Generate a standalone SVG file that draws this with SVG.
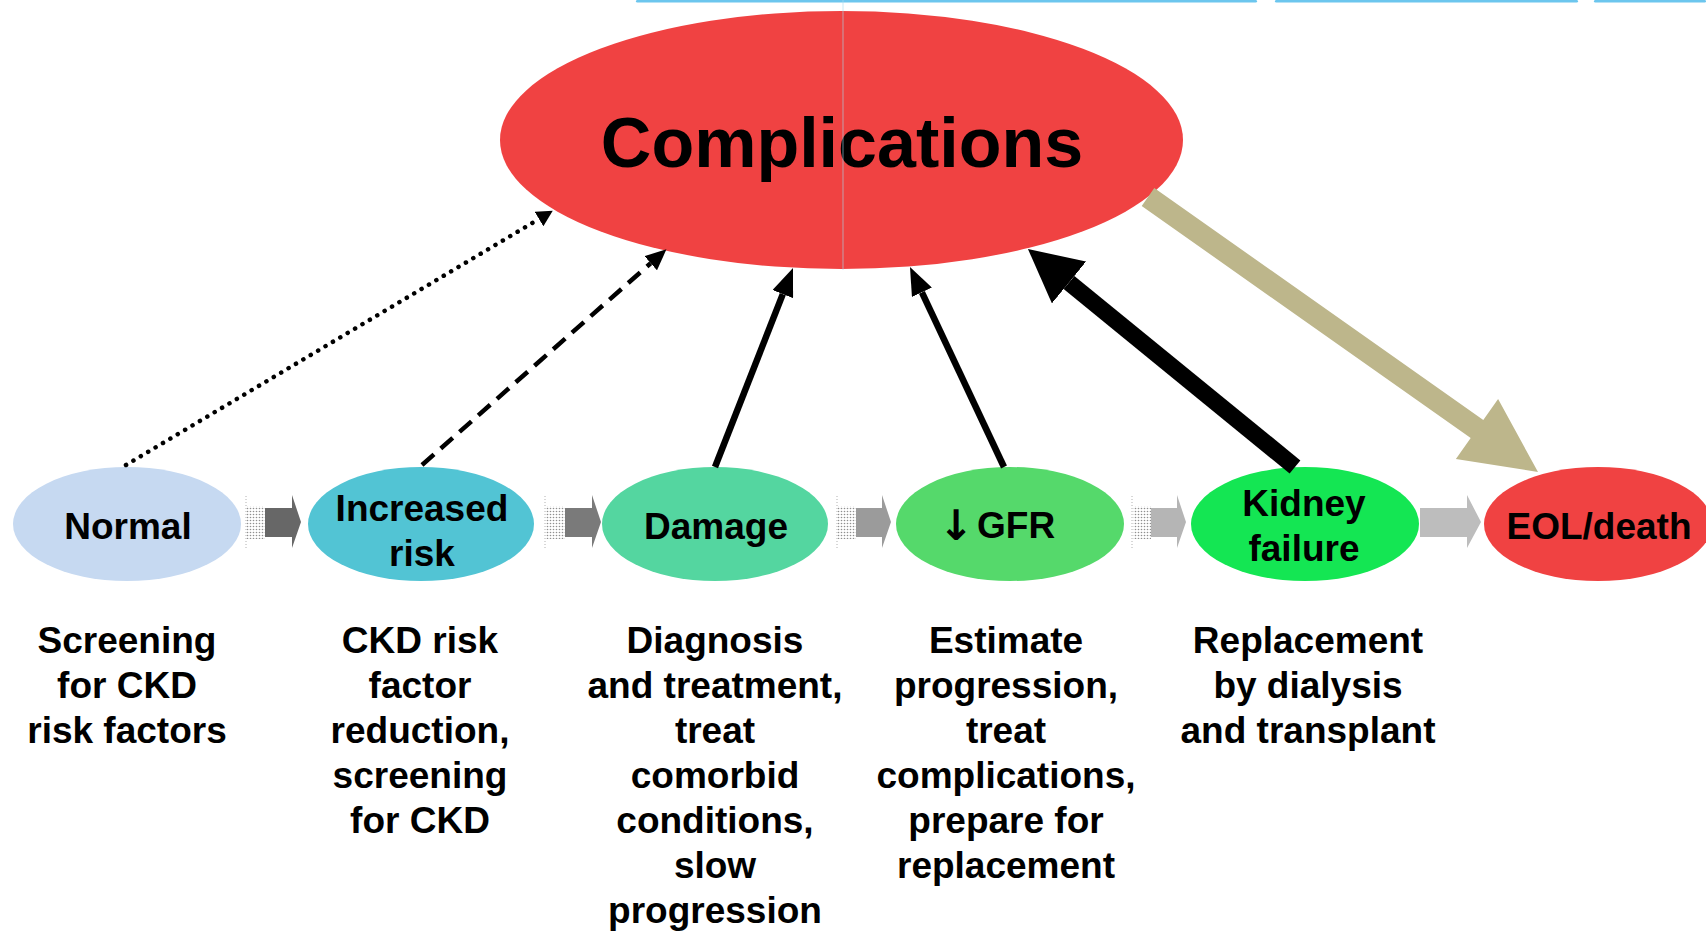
<svg xmlns="http://www.w3.org/2000/svg" width="1706" height="933" viewBox="0 0 1706 933">
<defs>
<style>
.t{font-family:"Liberation Sans",Arial,Helvetica,sans-serif;font-weight:bold;fill:#000}
.lbl{font-size:37px;text-anchor:middle}
.desc{font-size:37px;text-anchor:middle}
.ln{fill:none;stroke:#000;stroke-linecap:butt}
.dot{fill:none;stroke:#000;stroke-linecap:round;stroke-width:4.5px;stroke-dasharray:0.1 8.5}
.hatch{fill:url(#dots)}
.edge{stroke:#b0b0b0;stroke-width:1;stroke-dasharray:1 2}
</style>
<pattern id="dots" width="3" height="3" patternUnits="userSpaceOnUse"><circle cx="1.5" cy="1.5" r="0.8" fill="#8f8f8f"/></pattern>
<marker id="hS" markerUnits="userSpaceOnUse" viewBox="0 0 28 22" refX="0" refY="11" markerWidth="28" markerHeight="22" orient="auto"><path d="M0,0 L28,11 L0,22 z" fill="#000"/></marker>
<marker id="hDot" markerUnits="userSpaceOnUse" viewBox="0 0 16 17" refX="0" refY="8.5" markerWidth="16" markerHeight="17" orient="auto"><path d="M0,0 L16,8.5 L0,17 z" fill="#000"/></marker>
<marker id="hDash" markerUnits="userSpaceOnUse" viewBox="0 0 21 19" refX="0" refY="9.5" markerWidth="21" markerHeight="19" orient="auto"><path d="M0,0 L21,9.5 L0,19 z" fill="#000"/></marker>
<marker id="hBig" markerUnits="userSpaceOnUse" viewBox="0 0 53 54" refX="0" refY="27" markerWidth="53" markerHeight="54" orient="auto"><path d="M0,0 L53,27 L0,54 z" fill="#000"/></marker>
</defs>
<rect width="1706" height="933" fill="#fff"/>
<g id="top-bars" fill="#6cc6ee">
<rect x="636" y="0" width="621" height="2.5" rx="1.2"/>
<rect x="1275" y="0" width="303" height="2.5" rx="1.2"/>
<rect x="1594" y="0" width="112" height="2.5" rx="1.2"/>
</g>
<g id="complications">
<ellipse cx="841.5" cy="140" rx="341.5" ry="129" fill="#f04242"/>
<text class="t" x="842" y="167" font-size="70" text-anchor="middle">Complications</text>
</g>
<line x1="843" y1="0" x2="843" y2="270" stroke="#a6dcf2" stroke-width="1" opacity="0.6"/>
<g id="node-normal">
<ellipse cx="127" cy="524" rx="114" ry="57" fill="#c6d9f1"/>
<text class="t lbl" x="128" y="539">Normal</text>
</g>
<g id="node-increased-risk">
<ellipse cx="421" cy="524" rx="113" ry="57" fill="#52c4d4"/>
<text class="t lbl" x="422" y="521">Increased</text>
<text class="t lbl" x="422" y="566">risk</text>
</g>
<g id="node-damage">
<ellipse cx="715" cy="524" rx="113" ry="57" fill="#54d6a0"/>
<text class="t lbl" x="716" y="539">Damage</text>
</g>
<g id="node-gfr">
<ellipse cx="1010" cy="524" rx="114" ry="57" fill="#55d96b"/>
<text x="956" y="540" font-family="'DejaVu Sans',sans-serif" font-weight="bold" font-size="42" text-anchor="middle" fill="#000">↓</text>
<text class="t" font-size="37" x="977" y="538">GFR</text>
</g>
<g id="node-kidney-failure">
<ellipse cx="1305" cy="524" rx="114" ry="57" fill="#14e653"/>
<text class="t lbl" x="1304" y="516">Kidney</text>
<text class="t lbl" x="1304" y="561">failure</text>
</g>
<g id="node-eol">
<ellipse cx="1598" cy="524" rx="114" ry="57" fill="#f04242"/>
<text class="t lbl" x="1599" y="539">EOL/death</text>
</g>
<g id="connectors">
<g id="flow-arrows">
<rect class="hatch" x="247" y="506" width="18" height="33"/>
<line class="edge" x1="246" y1="496" x2="246" y2="548"/>
<path d="M265,508 H292 V495 L301,522 L292,548 V537 H265 z" fill="#676767"/>
<rect class="hatch" x="546" y="506" width="19" height="33"/>
<line class="edge" x1="545" y1="496" x2="545" y2="548"/>
<path d="M565,508 H592 V495 L601,522 L592,548 V537 H565 z" fill="#7a7a7a"/>
<rect class="hatch" x="838" y="506" width="18" height="33"/>
<line class="edge" x1="837" y1="496" x2="837" y2="548"/>
<path d="M856,508 H882 V495 L891,522 L882,548 V537 H856 z" fill="#9b9b9b"/>
<rect class="hatch" x="1133" y="506" width="18" height="33"/>
<line class="edge" x1="1132" y1="496" x2="1132" y2="548"/>
<path d="M1151,508 H1177 V495 L1186,522 L1177,548 V537 H1151 z" fill="#b5b5b5"/>
<path d="M1420,508 H1467 V495 L1481,522 L1467,548 V537 H1420 z" fill="#bdbdbd"/>
</g>
<line class="dot" x1="126" y1="465" x2="539" y2="219" marker-end="url(#hDot)"/>
<line class="ln" x1="422" y1="465" x2="650.7" y2="263.2" stroke-width="4.5" stroke-dasharray="16 9" marker-end="url(#hDash)"/>
<line class="ln" x1="715" y1="467" x2="782.8" y2="294.1" stroke-width="6.5" marker-end="url(#hS)"/>
<line class="ln" x1="1004" y1="467" x2="921.9" y2="292.3" stroke-width="6.5" marker-end="url(#hS)"/>
<line class="ln" x1="1295" y1="467" x2="1069" y2="282.5" stroke-width="17" marker-end="url(#hBig)"/>
<polygon points="1154.3,188 1483.3,420 1498.1,399.1 1538,472 1455.9,458.9 1470.7,438 1141.7,206" fill="#bdb68b"/>
</g>
<g id="descriptions">
<text class="t desc" x="127" y="653">Screening</text>
<text class="t desc" x="127" y="698">for CKD</text>
<text class="t desc" x="127" y="743">risk factors</text>
<text class="t desc" x="420" y="653">CKD risk</text>
<text class="t desc" x="420" y="698">factor</text>
<text class="t desc" x="420" y="743">reduction,</text>
<text class="t desc" x="420" y="788">screening</text>
<text class="t desc" x="420" y="833">for CKD</text>
<text class="t desc" x="715" y="653">Diagnosis</text>
<text class="t desc" x="715" y="698">and treatment,</text>
<text class="t desc" x="715" y="743">treat</text>
<text class="t desc" x="715" y="788">comorbid</text>
<text class="t desc" x="715" y="833">conditions,</text>
<text class="t desc" x="715" y="878">slow</text>
<text class="t desc" x="715" y="923">progression</text>
<text class="t desc" x="1006" y="653">Estimate</text>
<text class="t desc" x="1006" y="698">progression,</text>
<text class="t desc" x="1006" y="743">treat</text>
<text class="t desc" x="1006" y="788">complications,</text>
<text class="t desc" x="1006" y="833">prepare for</text>
<text class="t desc" x="1006" y="878">replacement</text>
<text class="t desc" x="1308" y="653">Replacement</text>
<text class="t desc" x="1308" y="698">by dialysis</text>
<text class="t desc" x="1308" y="743">and transplant</text>
</g>
</svg>
